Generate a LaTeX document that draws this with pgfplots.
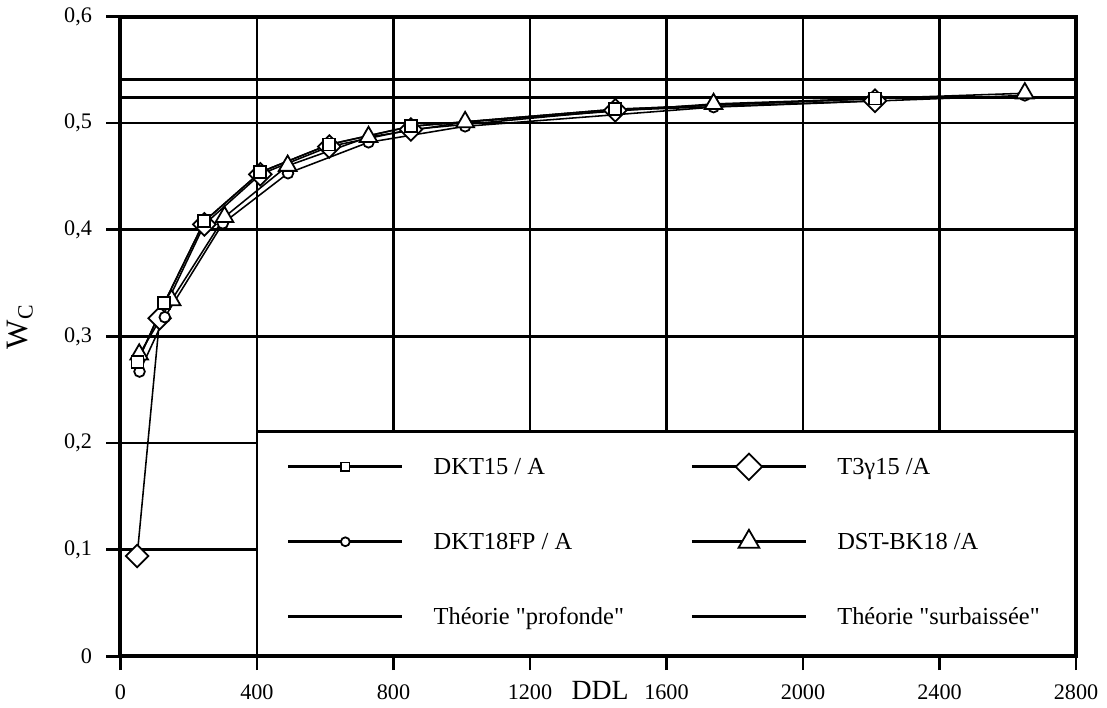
\documentclass[border=0pt]{standalone}
\usepackage{fontspec}
\setmainfont{Liberation Serif}
\usepackage{pgfplots}
\pgfplotsset{compat=1.18}
\begin{document}
\begin{tikzpicture}
\begin{axis}[
  scale only axis, width=430.2pt, height=288pt,
  xmin=0, xmax=2800, ymin=0, ymax=0.6,
  clip=false,
  xtick={0,400,800,1200,1600,2000,2400,2800},
  ytick={0,0.1,0.2,0.3,0.4,0.5,0.6},
  grid=major, major grid style={black, line width=1.2pt},
  axis line style={black, line width=1.8pt},
  tick pos=left, tick align=outside, major tick length=6.3pt,
  tick style={black, line width=1.2pt},
  /pgf/number format/assume math mode=true,
  /pgf/number format/1000 sep={},
  yticklabel style={/pgf/number format/use comma, xshift=-3pt},
  xticklabel style={yshift=-2.8pt},
  ticklabel style={font=\fontsize{10}{12}\selectfont},
  xlabel={DDL},
  xlabel style={at={(axis description cs:0.502,0)}, anchor=base, yshift=-19.35pt, font=\fontsize{12.5}{15}\selectfont},
  ylabel={W\textsubscript{C}},
  ylabel style={at={(axis description cs:-0.105,0.515)}, anchor=center, font=\fontsize{14}{16}\selectfont},
  legend columns=2,
  legend style={at={(axis cs:467,0.2034)}, anchor=north west, draw=none, fill=none,
    font=\fontsize{11}{13}\selectfont, nodes={inner sep=0pt, anchor=base west},
    /tikz/every odd column/.append style={column sep=13.5pt},
    row sep=10pt},
  legend image code/.code={%
    \path[draw=none, fill=none] (0pt,-10pt) -- (0pt,13.75pt);
    \draw[mark repeat=2,mark phase=2,#1,line width=1.3pt] plot coordinates {(0pt,3.6pt) (25.65pt,3.6pt) (51.3pt,3.6pt)};},
]
\fill[white] (axis cs:400,0) rectangle (axis cs:2800,0.211);
\draw[line width=1.2pt] (axis cs:400,0) -- (axis cs:400,0.211) -- (axis cs:2800,0.211);
\draw[line width=1.8pt] (axis cs:2800,0.211) -- (axis cs:2800,0) -- (axis cs:400,0);

\addplot[black, line width=0.7pt, mark=square*, mark size=2.7pt, mark options={fill=white, draw=black, line width=0.8pt}, legend image post style={mark size=1.9pt}]
  coordinates {(50,0.276) (128,0.331) (246,0.408) (410,0.454) (612,0.480) (851,0.497) (1450,0.513) (2211,0.523)};
\addlegendentry{\makebox[115.6pt][l]{DKT15 / A}}
\addplot[black, line width=0.7pt, mark=square*, mark size=3.6pt, mark options={rotate=45, fill=white, draw=black, line width=0.8pt}, legend image post style={mark size=4.2pt}]
  coordinates {(49,0.094) (115,0.317) (246,0.405) (410,0.452) (612,0.478) (851,0.494) (1450,0.512) (2211,0.521)};
\addlegendentry{T3γ15 /A}
\addplot[black, line width=0.7pt, mark=*, mark size=2.4pt, mark options={fill=white, draw=black, line width=0.8pt}, legend image post style={mark size=2pt}]
  coordinates {(56,0.267) (130,0.318) (300,0.406) (491,0.453) (727,0.482) (1010,0.497) (1738,0.515) (2650,0.526)};
\addlegendentry{\makebox[115.6pt][l]{DKT18FP / A}}
\addplot[black, line width=0.7pt, mark=triangle*, mark size=4.6pt, mark options={fill=white, draw=black, line width=0.8pt}, legend image post style={mark size=5.4pt}]
  coordinates {(55,0.283) (150,0.334) (305,0.412) (490,0.460) (727,0.487) (1010,0.501) (1738,0.518) (2650,0.528)};
\addlegendentry{DST-BK18 /A}
\addplot[black, line width=1.2pt] coordinates {(0,0.541) (2800,0.541)};
\addlegendentry{\makebox[115.6pt][l]{Théorie \textquotedbl profonde\textquotedbl}}
\addplot[black, line width=1.2pt] coordinates {(0,0.524) (2800,0.524)};
\addlegendentry{Théorie \textquotedbl surbaissée\textquotedbl}
% squares redrawn on top of the diamonds, as in the reference
\addplot[black, line width=0.7pt, mark=square*, mark size=2.7pt, mark options={fill=white, draw=black, line width=0.8pt}, forget plot]
  coordinates {(50,0.276) (128,0.331) (246,0.408) (410,0.454) (612,0.480) (851,0.497) (1450,0.513) (2211,0.523)};
\end{axis}
\path ([xshift=-54pt,yshift=-22.95pt]current axis.south west) rectangle ([xshift=13.95pt,yshift=6.75pt]current axis.north east);
\end{tikzpicture}
\end{document}
